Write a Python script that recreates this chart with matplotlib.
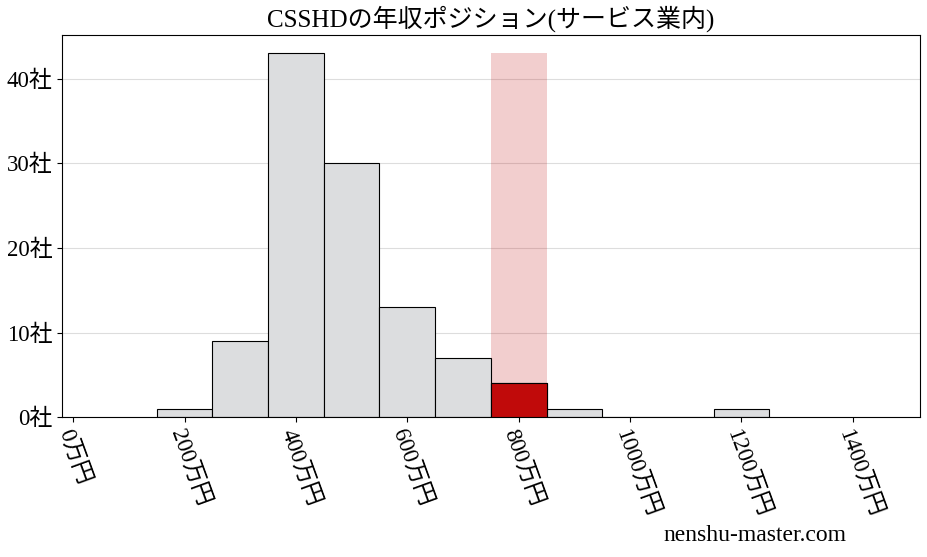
import numpy as np
import matplotlib.pyplot as plt

plt.rcParams['font.family'] = ['Liberation Serif', 'Noto Sans CJK JP']

bin_left = [150, 250, 350, 450, 550, 650, 750, 850, 950, 1050, 1150]
counts = [1, 9, 43, 30, 13, 7, 4, 1, 0, 0, 1]
bin_width = 100
target_left = 750
target_count = 4
xticks = [0, 200, 400, 600, 800, 1000, 1200, 1400]
yticks = [0, 10, 20, 30, 40]

fig, ax = plt.subplots(figsize=(9.27, 5.57), dpi=100)
fig.subplots_adjust(left=0.067, right=0.992, top=0.937, bottom=0.251)

ax.bar(bin_left, counts, width=bin_width, align='edge', color='#dcdddf',
       edgecolor='black', linewidth=0.8, zorder=2)
ax.bar([target_left], [max(counts)], width=bin_width, align='edge',
       color='#c00a0a', alpha=0.2, linewidth=0, zorder=1)
ax.bar([target_left], [target_count], width=bin_width, align='edge',
       color='#c00a0a', edgecolor='black', linewidth=0.8, zorder=3)

ax.set_xlim(-20, 1520)
ax.set_ylim(0, max(counts) * 1.05)
ax.set_xticks(xticks)
ax.set_xticklabels([f'{v}万円' for v in xticks], rotation=-70, ha='left',
                   va='top', rotation_mode='anchor')
ax.set_yticks(yticks)
ax.set_yticklabels([f'{v}社' for v in yticks])
ax.tick_params(labelsize=16.5)
ax.yaxis.grid(True, color='#dddddd', linewidth=0.8, zorder=0)
ax.set_axisbelow(True)

ax.set_title('CSSHDの年収ポジション(サービス業内)', fontsize=18)
fig.text(0.913, 0.02, 'nenshu-master.com', ha='right', va='bottom', fontsize=17)

fig.savefig('out.png')
